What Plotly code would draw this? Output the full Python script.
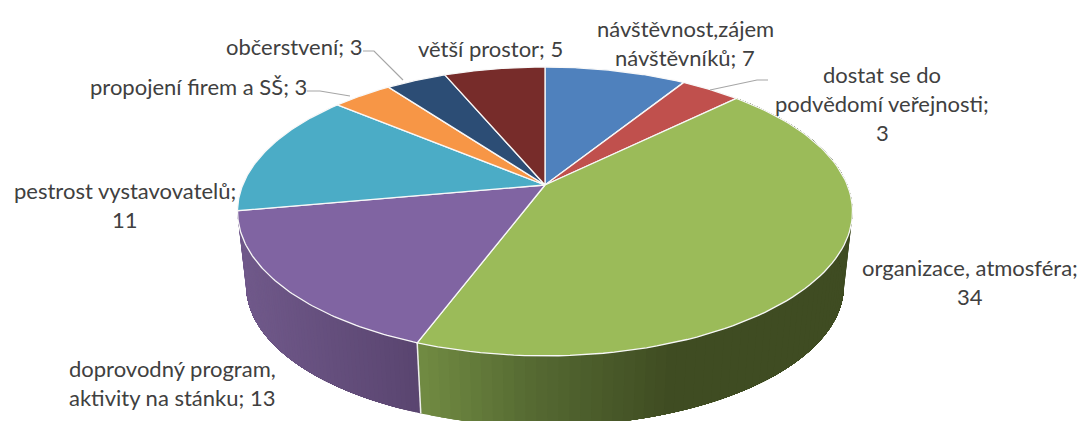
import numpy as np
import plotly.graph_objects as go

# ---- data ----
categories = ["návštěvnost,zájem<br>návštěvníků", "dostat se do<br>podvědomí veřejnosti;<br>", "organizace, atmosféra;<br>",
              "doprovodný program,<br>aktivity na stánku", "pestrost vystavovatelů;<br>", "propojení firem a SŠ",
              "občerstvení", "větší prostor"]
values = [7, 3, 34, 13, 11, 3, 3, 5]
colors = ["#4f81bd", "#c0504d", "#9bbb59", "#8064a2", "#4bacc6", "#f79646", "#2c4d75", "#772c2a"]
# label centre (px) for first line, one per category
label_x = [685, 882, 970, 172, 125, 198, 294, 490]
label_y = [28, 74, 267, 368, 190, 86, 46, 48]

# ---- geometry of the tilted disc ----
CX, CY = 545.0, 185.0
RX, RY, K = 302.3, 139.6, 0.183
DROP, SHRINK = 75.0, 0.972
LINE_STEP = 29.3
FONT = dict(family="Lato", size=22, color="#404040")

# side-wall shading stops: slice index -> [(x px, colour rgb)]
wall_stops = {
    3: [(245, (112, 89, 138)), (420, (90, 69, 112))],
    2: [(420, (112, 138, 66)), (530, (85, 105, 50)), (670, (63, 76, 34)), (860, (63, 76, 34))],
}


def project(theta, drop=0.0, scale=1.0):
    u, v = np.sin(theta), -np.cos(theta)
    s = 1.0 / (1.0 - K * v)
    return CX + scale * RX * u * s, CY + drop + scale * RY * v * s


def wall_colour(idx, x):
    stops = wall_stops[idx]
    xs = [p[0] for p in stops]
    rgb = [int(np.interp(x, xs, [p[1][c] for p in stops])) for c in range(3)]
    return f"rgb({rgb[0]},{rgb[1]},{rgb[2]})"


fig = go.Figure()
fracs = np.cumsum([0] + values) / sum(values) * 2 * np.pi

# side walls: each band runs to the slice end and is painted over by the next one,
# so that no seams appear between the shading steps
for idx in wall_stops:
    a0, a1 = fracs[idx], fracs[idx + 1]
    if idx == 2:  # the green wall shades left to right, i.e. from its far end backwards
        edges = np.linspace(a1, a0, 90)
    else:
        edges = np.linspace(a0, a1, 70)
    for t0 in edges[:-1]:
        ts = np.linspace(t0, edges[-1], 60)
        xt, yt = project(ts)
        xb, yb = project(ts[::-1], DROP, SHRINK)
        col = wall_colour(idx, float(project(np.array([t0]))[0][0]))
        fig.add_trace(go.Scatter(x=np.r_[xt, xb, xt[0]], y=np.r_[yt, yb, yt[0]], mode="lines",
                                 fill="toself", fillcolor=col, line=dict(width=0),
                                 hoverinfo="skip", showlegend=False))

# white seam between the two walls
seam = fracs[3]
x0, y0 = project(np.array([seam]))
x1, y1 = project(np.array([seam]), DROP, SHRINK)
fig.add_trace(go.Scatter(x=np.r_[x0, x1], y=np.r_[y0, y1], mode="lines",
                         line=dict(color="#eeeeee", width=1.5), hoverinfo="skip", showlegend=False))

# top face of every slice
for i, (v, col) in enumerate(zip(values, colors)):
    ts = np.linspace(fracs[i], fracs[i + 1], 90)
    xs, ys = project(ts)
    fig.add_trace(go.Scatter(x=np.r_[CX, xs, CX], y=np.r_[CY, ys, CY], mode="lines", fill="toself",
                             fillcolor=col, line=dict(color="#f8f8f8", width=1.3),
                             hoverinfo="skip", showlegend=False, name=categories[i].replace("<br>", " ")))

# leader lines
leaders = [([768, 757, 710], [80, 80, 90]),
           ([363, 374, 403], [51, 51, 80]),
           ([307, 320, 350], [91, 91, 96])]
for lx, ly in leaders:
    fig.add_trace(go.Scatter(x=lx, y=ly, mode="lines", line=dict(color="#a6a6a6", width=1.2),
                             hoverinfo="skip", showlegend=False))

# labels
for cat, val, lx, ly in zip(categories, values, label_x, label_y):
    sep = "" if cat.endswith("<br>") else "; "
    for n, line in enumerate(f"{cat}{sep}{val}".split("<br>")):
        fig.add_annotation(x=lx, y=ly + n * LINE_STEP, text=line, showarrow=False, font=FONT,
                           xanchor="center", yanchor="middle")

fig.update_layout(width=1084, height=421, margin=dict(l=0, r=0, t=0, b=0),
                  paper_bgcolor="white", plot_bgcolor="white", showlegend=False,
                  xaxis=dict(range=[0, 1084], visible=False, fixedrange=True),
                  yaxis=dict(range=[421, 0], visible=False, fixedrange=True))
fig.write_html("out.html", config={"displayModeBar": False},
               post_script="document.body.style.margin='0';document.documentElement.style.overflow='hidden';")
